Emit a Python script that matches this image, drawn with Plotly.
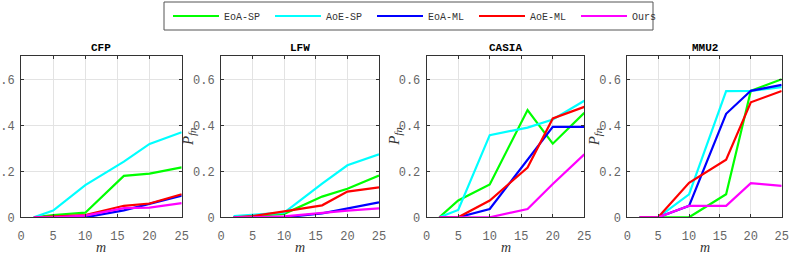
import plotly.graph_objects as go

m_values = [2, 5, 10, 16, 20, 25]
panel_titles = ["CFP", "LFW", "CASIA", "MMU2"]
series_names = ["EoA-SP", "AoE-SP", "EoA-ML", "AoE-ML", "Ours"]
series_colors = ["#00ff00", "#00ffff", "#0000ff", "#ff0000", "#ff00ff"]

# values per panel, per series (order as series_names)
cfp_eoa_sp = [0, 0.010, 0.020, 0.180, 0.190, 0.217]
cfp_aoe_sp = [0, 0.029, 0.140, 0.242, 0.319, 0.370]
cfp_eoa_ml = [0, 0.000, 0.000, 0.030, 0.058, 0.094]
cfp_aoe_ml = [0, 0.003, 0.010, 0.050, 0.060, 0.100]
cfp_ours = [0, 0.000, 0.007, 0.040, 0.042, 0.062]

lfw_eoa_sp = [0, 0.005, 0.015, 0.090, 0.124, 0.182]
lfw_aoe_sp = [0.005, 0.010, 0.020, 0.146, 0.226, 0.274]
lfw_eoa_ml = [0, 0.000, 0.000, 0.017, 0.039, 0.065]
lfw_aoe_ml = [0, 0.005, 0.026, 0.052, 0.112, 0.130]
lfw_ours = [0, 0.000, 0.004, 0.020, 0.029, 0.039]

casia_eoa_sp = [0, 0.073, 0.143, 0.466, 0.320, 0.454]
casia_aoe_sp = [0, 0.032, 0.357, 0.390, 0.425, 0.507]
casia_eoa_ml = [0, 0.000, 0.036, 0.248, 0.393, 0.393]
casia_aoe_ml = [0, 0.000, 0.073, 0.216, 0.430, 0.480]
casia_ours = [0, 0.000, 0.000, 0.036, 0.145, 0.274]

mmu2_eoa_sp = [0, 0.000, 0.000, 0.100, 0.550, 0.600]
mmu2_aoe_sp = [0, 0.000, 0.100, 0.549, 0.550, 0.566]
mmu2_eoa_ml = [0, 0.000, 0.050, 0.450, 0.550, 0.576]
mmu2_aoe_ml = [0, 0.000, 0.150, 0.250, 0.500, 0.549]
mmu2_ours = [0, 0.000, 0.050, 0.050, 0.148, 0.137]

x_ticks = [0, 5, 10, 15, 20, 25]
y_ticks = [0, 0.2, 0.4, 0.6]
y_tick_labels = ["0", "0.2", "0.4", "0.6"]

panels = [
    [cfp_eoa_sp, cfp_aoe_sp, cfp_eoa_ml, cfp_aoe_ml, cfp_ours],
    [lfw_eoa_sp, lfw_aoe_sp, lfw_eoa_ml, lfw_aoe_ml, lfw_ours],
    [casia_eoa_sp, casia_aoe_sp, casia_eoa_ml, casia_aoe_ml, casia_ours],
    [mmu2_eoa_sp, mmu2_aoe_sp, mmu2_eoa_ml, mmu2_aoe_ml, mmu2_ours],
]

W, H = 789, 253
# plot-area pixel boxes
x_px = [(21, 181.7), (221, 379), (426.7, 584.3), (627.3, 781.7)]
y_top_px, y_bot_px = 56.3, 217.3

mono = "Liberation Mono, Courier New, monospace"
serif = "Liberation Serif, DejaVu Serif, serif"

fig = go.Figure()
layout = dict(
    width=W, height=H,
    margin=dict(l=0, r=0, t=0, b=0, autoexpand=False),
    paper_bgcolor="white", plot_bgcolor="white",
    showlegend=True,
    annotations=[], shapes=[],
)

ydom = [(H - y_bot_px) / H, (H - y_top_px) / H]
for i, (title, data) in enumerate(zip(panel_titles, panels)):
    k = "" if i == 0 else str(i + 1)
    xa, ya = "x" + k, "y" + k
    for j, (name, col, vals) in enumerate(zip(series_names, series_colors, data)):
        fig.add_trace(go.Scatter(
            x=m_values, y=vals, mode="lines", name=name,
            line=dict(color=col, width=2.2),
            xaxis=xa, yaxis=ya, showlegend=(i == 0),
            legendrank=j,
        ))
    axcommon = dict(
        showline=True, linecolor="#333333", linewidth=1, mirror="ticks",
        ticks="inside", ticklen=3, tickcolor="#333333",
        showgrid=True, gridcolor="#e3e3e3", gridwidth=1,
        zeroline=False,
        tickfont=dict(family=mono, size=12, color="#666666"),
        fixedrange=True,
    )
    layout["xaxis" + k] = dict(
        axcommon, domain=[x_px[i][0] / W, x_px[i][1] / W],
        range=[0, 25], tickvals=x_ticks, anchor=ya, ticklabelstandoff=7,
    )
    layout["yaxis" + k] = dict(
        axcommon, domain=ydom, range=[0, 0.7],
        tickvals=y_ticks, ticktext=y_tick_labels, anchor=xa, ticklabelstandoff=3,
    )
    cx = (x_px[i][0] + x_px[i][1]) / 2 / W
    layout["annotations"] += [
        dict(text="<b>%s</b>" % title, x=cx, y=(H - 48) / H, xref="paper", yref="paper",
             showarrow=False, font=dict(family=mono, size=11, color="black"),
             xanchor="center", yanchor="middle"),
        dict(text="<i>m</i>", x=cx, y=(H - 247) / H, xref="paper", yref="paper",
             showarrow=False, font=dict(family=serif, size=14, color="#333333"),
             xanchor="center", yanchor="middle"),
    ]
    if i > 0:
        layout["annotations"].append(
            dict(text="<i>P</i><sub><i>fn</i></sub>", x=(x_px[i][0] - 32) / W,
                 y=(H - 137) / H, xref="paper", yref="paper",
                 showarrow=False, textangle=-90,
                 font=dict(family=serif, size=15, color="#333333"),
                 xanchor="center", yanchor="middle"))

# legend box
layout["shapes"].append(dict(
    type="rect", xref="paper", yref="paper",
    x0=164 / W, x1=653 / W, y0=(H - 30) / H, y1=(H - 2) / H,
    line=dict(color="#555555", width=1), fillcolor="white", layer="below",
))
layout["legend"] = dict(
    orientation="h", x=168 / W, y=(H - 16) / H, xanchor="left", yanchor="middle",
    xref="paper", yref="paper",
    font=dict(family=mono, size=10, color="#333333"),
    bgcolor="rgba(0,0,0,0)", borderwidth=0,
    itemwidth=46, entrywidth=41, entrywidthmode="pixels",
    tracegroupgap=0,
)
fig.update_layout(**layout)
fig.write_html("out.html", config={"displayModeBar": False},
               post_script="document.body.style.margin='0';")
